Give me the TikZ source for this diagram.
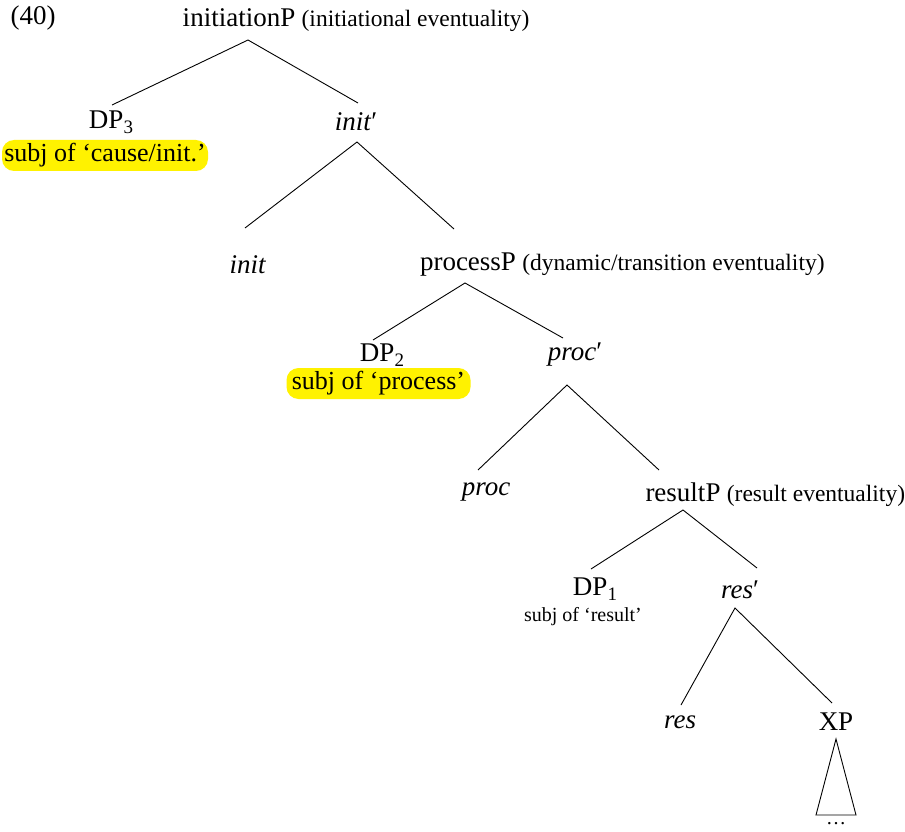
\documentclass[tikz,border=0pt]{standalone}
\usepackage{fontspec}
\setmainfont{Liberation Serif}
\newcommand{\mysub}[1]{\raisebox{-5pt}{\fontsize{19}{22}\selectfont #1}}
\begin{document}
\begin{tikzpicture}[x=1pt,y=-1pt,
  lab/.style={inner sep=0pt,font=\fontsize{27}{32}\selectfont},
  par/.style={inner sep=0pt,anchor=base west,font=\fontsize{23.5}{28}\selectfont},
  hl/.style={inner sep=0pt,fill=yellow,rounded corners=12pt,minimum height=31pt,font=\fontsize{26}{31}\selectfont},
  note/.style={inner sep=0pt,font=\fontsize{20}{24}\selectfont},
  edge/.style={line width=0.9pt}]
\useasboundingbox (0,0) rectangle (905,832);
\node[lab] (ex) at (33,18) {(40)};
% level 1
\node[lab] (iP) at (239,18) {initiationP};
\node[par] (iPc) at ([xshift=6pt]iP.base east) {(initiational eventuality)};
\coordinate (iPa) at (248,40);
\node[lab] (DP3) at (111,122) {DP\mysub{3}};
\coordinate (DP3t) at (112,105);
\node[hl,minimum width=206pt] (s3) at (105,155.5) {subj of ‘cause/init.’};
\node[lab] (ib) at (356,122) {\textit{init}′};
\coordinate (ibt) at (358,103);
\coordinate (iba) at (357,142);
\draw[edge] (DP3t) -- (iPa) -- (ibt);
% level 2
\node[lab] (in) at (248,265) {\textit{init}};
\coordinate (int) at (245,228);
\node[lab] (pP) at (468,265) {processP};
\node[par] (pPc) at ([xshift=6pt]pP.base east) {(dynamic/transition eventuality)};
\coordinate (pPt) at (454,229);
\coordinate (pPa) at (465,283);
\draw[edge] (int) -- (iba) -- (pPt);
% level 3
\node[lab] (DP2) at (382,355) {DP\mysub{2}};
\coordinate (DP2t) at (373,340);
\node[hl,minimum width=184pt] (s2) at (378.5,383.5) {subj of ‘process’};
\node[lab] (pb) at (575,355) {\textit{proc}′};
\coordinate (pbt) at (563,338);
\coordinate (pba) at (567,385);
\draw[edge] (DP2t) -- (pPa) -- (pbt);
% level 4
\node[lab] (pr) at (486,492) {\textit{proc}};
\coordinate (prt) at (478,470);
\node[lab] (rP) at (683,492) {resultP};
\node[par] (rPc) at ([xshift=6pt]rP.base east) {(result eventuality)};
\coordinate (rPt) at (659,470);
\coordinate (rPa) at (683,510);
\draw[edge] (prt) -- (pba) -- (rPt);
% level 5
\node[lab] (DP1) at (595,589) {DP\mysub{1}};
\coordinate (DP1t) at (591,569);
\node[note] (s1) at (583,617) {subj of ‘result’};
\node[lab] (rb) at (740,590) {\textit{res}′};
\coordinate (rbt) at (757,568);
\coordinate (rba) at (735,608);
\draw[edge] (DP1t) -- (rPa) -- (rbt);
% level 6
\node[lab] (rs) at (680,722) {\textit{res}};
\coordinate (rst) at (681,705);
\node[lab] (XP) at (836,722) {XP};
\coordinate (XPt) at (832,703);
\draw[edge] (rst) -- (rba) -- (XPt);
\coordinate (ta) at (836,739);
\coordinate (tl) at (816,815);
\coordinate (tr) at (856,815);
\draw[edge,line join=miter] (ta) -- (tl) -- (tr) -- cycle;
\node[note] (dots) at (836,824) {…};
\end{tikzpicture}
\end{document}
